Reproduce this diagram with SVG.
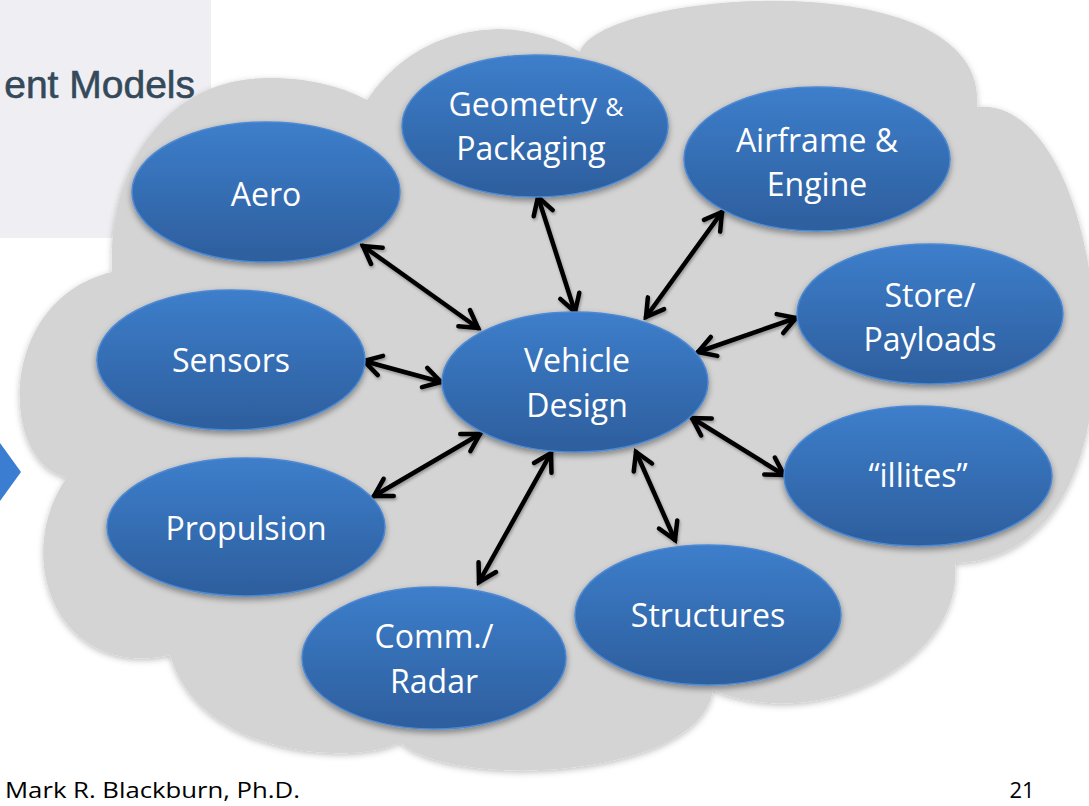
<svg xmlns="http://www.w3.org/2000/svg" width="1089" height="806" viewBox="0 0 1089 806">
<style>
.lbl{font-family:"Open Sans","Liberation Sans",sans-serif;font-size:32px;fill:#ffffff;text-anchor:middle}
.node{fill:url(#blueGrad);stroke:#4d89d3;stroke-width:1.5;filter:url(#shadow)}
.conn{stroke:#000;stroke-width:4.5;fill:none;stroke-linecap:round;marker-start:url(#head);marker-end:url(#head)}
.foot{font-family:"Open Sans","Liberation Sans",sans-serif;font-size:22px;fill:#000}
</style>
<defs>
<linearGradient id="blueGrad" x1="0" y1="0" x2="0" y2="1">
<stop offset="0" stop-color="#3d7ecb"/>
<stop offset="1" stop-color="#2d5e9d"/>
</linearGradient>
<filter id="shadow" x="-20%" y="-20%" width="140%" height="150%">
<feDropShadow dx="0" dy="3" stdDeviation="3" flood-color="#000" flood-opacity="0.4"/>
</filter>
<filter id="cshadow" x="-10%" y="-10%" width="120%" height="120%">
<feDropShadow dx="0" dy="2" stdDeviation="3" flood-color="#000" flood-opacity="0.25"/>
</filter>
<filter id="ashadow" x="-30%" y="-30%" width="160%" height="160%">
<feDropShadow dx="1" dy="2" stdDeviation="1.5" flood-color="#000" flood-opacity="0.3"/>
</filter>
<marker id="head" viewBox="-22 -14 26 28" refX="0" refY="0" markerWidth="26" markerHeight="28" markerUnits="userSpaceOnUse" orient="auto-start-reverse">
<path d="M-17,-10 L0,0 L-17,10" fill="none" stroke="#000" stroke-width="4.5" stroke-linecap="round" stroke-linejoin="miter"/>
</marker>
</defs>
<rect width="1089" height="806" fill="#ffffff"/>
<rect x="0" y="0" width="211" height="238" fill="#efeff3"/>
<text x="195" y="98" font-family="Liberation Sans, Arial, sans-serif" font-size="39" fill="#34495a" stroke="#34495a" stroke-width="0.6" text-anchor="end">ent Models</text>
<polygon points="0,443 21,472 0,501" fill="#3b7dd0"/>
<path id="cloud" filter="url(#cshadow)" fill="#d4d4d4" d="M112,272 C108,160 170,80 265,78 C310,77 345,88 367,100 A157,157 0 0 1 580,52 C600,-10 990,-40 977,107 C1040,100 1090,200 1095,330 C1100,450 1060,560 955,563 C965,660 820,735 713,690 C700,780 450,790 400,742 C360,765 200,760 170,655 C60,680 10,560 67,477 C0,465 -5,300 112,272 Z"/>
<g id="connectors" filter="url(#ashadow)">
<line class="conn" x1="363" y1="246" x2="478" y2="328"/>
<line class="conn" x1="538" y1="197" x2="575" y2="312"/>
<line class="conn" x1="722" y1="212" x2="646" y2="317"/>
<line class="conn" x1="796" y1="318" x2="698" y2="352"/>
<line class="conn" x1="364" y1="361" x2="441" y2="382"/>
<line class="conn" x1="374" y1="496" x2="480" y2="434"/>
<line class="conn" x1="479" y1="582" x2="551" y2="453"/>
<line class="conn" x1="636" y1="452" x2="675" y2="540"/>
<line class="conn" x1="692" y1="418" x2="784" y2="475"/>
</g>
<g id="aero"><ellipse class="node" cx="266" cy="192" rx="134" ry="70"/><text class="lbl" x="266" y="206">Aero</text></g>
<g id="geometry"><ellipse class="node" cx="535" cy="126" rx="133" ry="71"/><text class="lbl" x="536" y="116">Geometry <tspan font-size="25">&amp;</tspan></text><text class="lbl" x="531" y="160">Packaging</text></g>
<g id="airframe"><ellipse class="node" cx="817" cy="159" rx="133" ry="72"/><text class="lbl" x="817" y="152">Airframe &amp;</text><text class="lbl" x="817" y="196">Engine</text></g>
<g id="store"><ellipse class="node" cx="930" cy="314" rx="133" ry="70"/><text class="lbl" x="930" y="307">Store/</text><text class="lbl" x="930" y="351">Payloads</text></g>
<g id="sensors"><ellipse class="node" cx="231" cy="360" rx="134" ry="70"/><text class="lbl" x="231" y="372">Sensors</text></g>
<g id="vehicle"><ellipse class="node" cx="575" cy="382" rx="133" ry="70"/><text class="lbl" x="577" y="372">Vehicle</text><text class="lbl" x="577" y="417">Design</text></g>
<g id="illites"><ellipse class="node" cx="918" cy="476" rx="134" ry="70"/><text class="lbl" x="918" y="487">“illites”</text></g>
<g id="propulsion"><ellipse class="node" cx="246" cy="527" rx="139" ry="69"/><text class="lbl" x="246" y="540">Propulsion</text></g>
<g id="structures"><ellipse class="node" cx="708" cy="615" rx="133" ry="70"/><text class="lbl" x="708" y="627">Structures</text></g>
<g id="comm"><ellipse class="node" cx="434" cy="658" rx="132" ry="71"/><text class="lbl" x="434" y="648">Comm./</text><text class="lbl" x="434" y="693">Radar</text></g>
<text class="foot" x="5" y="798" textLength="295" lengthAdjust="spacingAndGlyphs">Mark R. Blackburn, Ph.D.</text>
<text class="foot" x="1022" y="798" text-anchor="middle">21</text>
</svg>
